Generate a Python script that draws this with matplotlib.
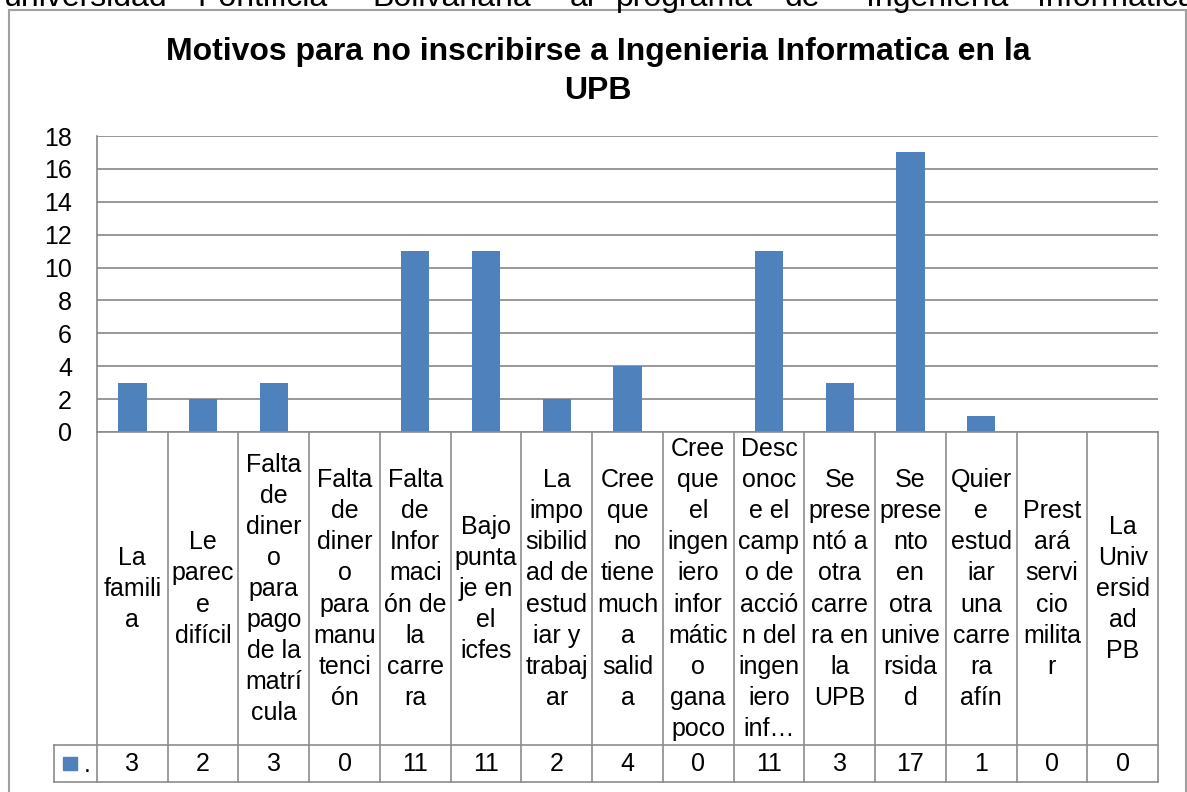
import matplotlib
matplotlib.use("Agg")
import matplotlib.pyplot as plt
from matplotlib.lines import Line2D
from matplotlib.patches import Rectangle
from matplotlib.transforms import blended_transform_factory

plt.rcParams['font.family'] = ['Liberation Sans', 'DejaVu Sans']

# ---------------- data ----------------
title_lines = ["Motivos para no inscribirse a Ingenieria Informatica en la", "UPB"]
categories = [
    "La\nfamili\na",
    "Le\nparec\ne\ndifícil",
    "Falta\nde\ndiner\no\npara\npago\nde la\nmatrí\ncula",
    "Falta\nde\ndiner\no\npara\nmanu\ntenci\nón",
    "Falta\nde\nInfor\nmaci\nón de\nla\ncarre\nra",
    "Bajo\npunta\nje en\nel\nicfes",
    "La\nimpo\nsibilid\nad de\nestud\niar y\ntrabaj\nar",
    "Cree\nque\nno\ntiene\nmuch\na\nsalid\na",
    "Cree\nque\nel\ningen\niero\ninfor\nmátic\no\ngana\npoco",
    "Desc\nonoc\ne el\ncamp\no de\nacció\nn del\ningen\niero\ninf…",
    "Se\nprese\nntó a\notra\ncarre\nra en\nla\nUPB",
    "Se\nprese\nnto\nen\notra\nunive\nrsida\nd",
    "Quier\ne\nestud\niar\nuna\ncarre\nra\nafín",
    "Prest\nará\nservi\ncio\nmilita\nr",
    "La\nUniv\nersid\nad\nPB",
]
values = [3, 2, 3, 0, 11, 11, 2, 4, 0, 11, 3, 17, 1, 0, 0]
series_name = "."
yticks = [0, 2, 4, 6, 8, 10, 12, 14, 16, 18]
top_words = ["universidad", "Pontificia", "Bolivariana", "al", "programa",
             "de", "Ingeniería", "Informática."]

# ---------------- layout ----------------
W, H = 1187, 792
fig = plt.figure(figsize=(W / 100, H / 100), dpi=100)

def fx(x):
    return x / W

def fy(y):
    return 1 - y / H

BAR = '#4F81BD'
GRID = '#868686'
LINE = '#8C8C8C'
FS = 18

# text from the surrounding document (cut off at top)
word_x = [4, 197, 372, 570, 616, 785, 866, 1037]
for w, x in zip(top_words, word_x):
    fig.text(fx(x), fy(6), w, fontsize=23, ha='left', va='baseline')

# chart outer border
fig.add_artist(Rectangle((fx(9), fy(800)), fx(1186) - fx(9), fy(10) - fy(800),
                         transform=fig.transFigure, fill=False,
                         edgecolor='#A0A0A0', linewidth=1.5))

# title
fig.text(fx(598), fy(60), title_lines[0],
         fontsize=23, fontweight='bold', ha='center', va='baseline')
fig.text(fx(598), fy(99), title_lines[1],
         fontsize=23, fontweight='bold', ha='center', va='baseline')

# plot area
L, R, T, B = 97, 1158, 136, 432
ax = fig.add_axes([fx(L), fy(B), fx(R) - fx(L), fy(T) - fy(B)])
n = len(categories)
xs = list(range(n))
ax.bar(xs, values, width=0.4, color=BAR, zorder=3)
ax.set_xlim(-0.5, n - 0.5)
ax.set_ylim(0, 18)
ax.set_yticks(yticks)
ax.set_yticklabels([str(t) for t in yticks], fontsize=FS)
ax.tick_params(axis='y', length=0, pad=18)
ax.set_xticks([])
ax.grid(axis='y', color=GRID, linewidth=1.2, zorder=0)
for s in ['top', 'right', 'bottom']:
    ax.spines[s].set_visible(False)
ax.spines['left'].set_color(GRID)
ax.spines['left'].set_linewidth(1.2)

# data table below the axis
tr = blended_transform_factory(ax.transData, fig.transFigure)
row1_top, row1_bot, row2_bot = 432, 745, 782
lw = 1.2
fig.add_artist(Line2D([-0.5, n - 0.5], [fy(row1_top)] * 2, transform=tr, color=LINE, lw=lw))
fig.add_artist(Line2D([fx(54), fx(R)], [fy(row1_bot)] * 2, transform=fig.transFigure, color=LINE, lw=lw))
fig.add_artist(Line2D([fx(54), fx(R)], [fy(row2_bot)] * 2, transform=fig.transFigure, color=LINE, lw=lw))
for i in range(n + 1):
    fig.add_artist(Line2D([i - 0.5, i - 0.5], [fy(row1_top), fy(row2_bot)],
                          transform=tr, color=LINE, lw=lw))
fig.add_artist(Line2D([fx(54), fx(54)], [fy(row1_bot), fy(row2_bot)],
                      transform=fig.transFigure, color=LINE, lw=lw))

for i, (c, v) in enumerate(zip(categories, values)):
    fig.text(i, fy(589), c, transform=tr, fontsize=FS, ha='center', va='center',
             multialignment='center', linespacing=1.37)
    fig.text(i, fy(764), str(v), transform=tr, fontsize=FS, ha='center', va='center')

# legend key in table
fig.add_artist(Rectangle((fx(63), fy(770)), fx(14), fy(0) - fy(13),
                         transform=fig.transFigure, color=BAR))
fig.text(fx(84), fy(772), series_name, fontsize=FS, ha='left', va='baseline')

fig.savefig("out.png", dpi=100)
